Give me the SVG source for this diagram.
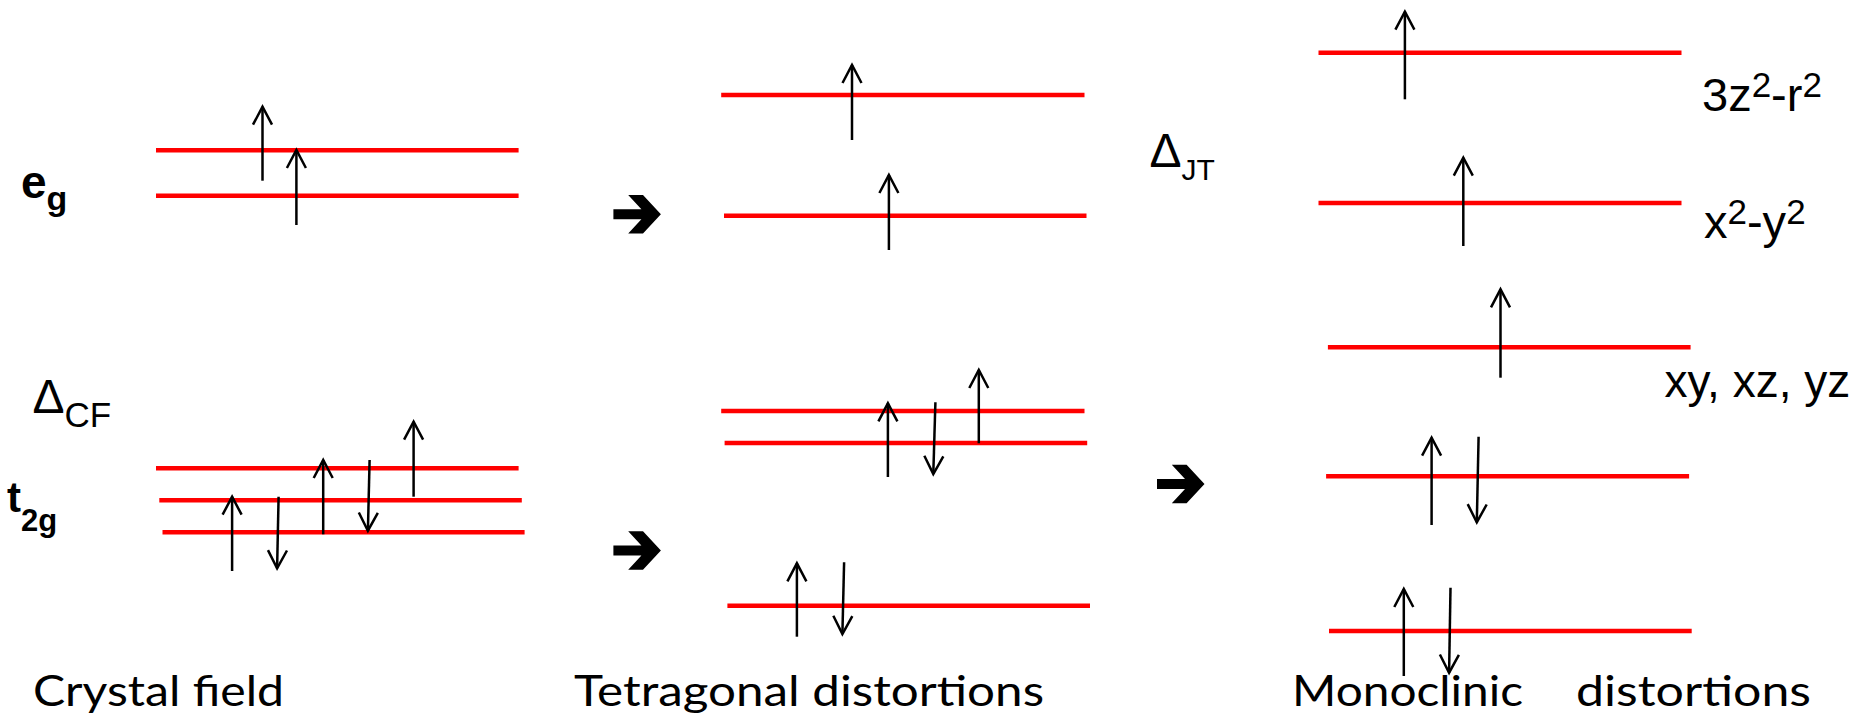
<svg xmlns="http://www.w3.org/2000/svg" width="1862" height="720" viewBox="0 0 1862 720">
  <style>
    .lvl { stroke: #FF0000; stroke-width: 4.5; fill: none; }
    .spin { stroke: #000; stroke-width: 2.5; fill: none; marker-end: url(#head); }
    .lab { font-family: "Liberation Sans", Arial, sans-serif; fill: #000; }
    .bold { font-weight: bold; }
    .cap { font-family: Lato, "Open Sans", sans-serif; font-size: 43px; fill: #000; }
  </style>
  <defs>
    <!-- open V head for the spin arrows -->
    <marker id="head" markerUnits="userSpaceOnUse" markerWidth="24" markerHeight="24" refX="0" refY="0" orient="auto" overflow="visible">
      <path d="M-18,-9.5 L0,0 L-18,9.5" fill="none" stroke="#000" stroke-width="2.5"/>
    </marker>
    <!-- heavy notched arrow between stages -->
    <polygon id="bigarrow" points="0,-5 28,-5 14.8,-19.2 29.6,-19.2 47.5,0 29.6,19.2 14.8,19.2 28,5 0,5" fill="#000"/>
  </defs>

  <rect width="1862" height="720" fill="#fff"/>

  <!-- Crystal field: e_g doublet -->
  <g id="cf-eg">
    <path class="lvl" d="M156,150.3 H518.6 M156,195.7 H518.6"/>
    <path class="spin" d="M262.5,180.7 V106.7"/>
    <path class="spin" d="M296.4,225 V150"/>
    <text class="lab bold" x="21" y="198.3" font-size="46">e<tspan font-size="34" dy="12">g</tspan></text>
  </g>

  <!-- Crystal field splitting label -->
  <g id="cf-delta">
    <text class="lab" x="32.5" y="412.7" font-size="48">Δ<tspan font-size="35" dy="14">CF</tspan></text>
  </g>

  <!-- Crystal field: t_2g triplet -->
  <g id="cf-t2g">
    <path class="lvl" d="M156,468.3 H518.6 M159.3,500.3 H521.8 M162.5,532.3 H524.6"/>
    <path class="spin" d="M232.1,571 V496.7"/>
    <path class="spin" d="M278.6,496.7 L277.1,568.3"/>
    <path class="spin" d="M323.2,534.3 V460"/>
    <path class="spin" d="M369.6,460 L367.9,530.7"/>
    <path class="spin" d="M413.6,496.7 V421.7"/>
    <text class="lab bold" x="7" y="512" font-size="42">t<tspan font-size="31" dy="19">2g</tspan></text>
  </g>

  <!-- Tetragonal stage -->
  <g id="tet-eg">
    <path class="lvl" d="M721.2,95 H1084.5 M724,215.7 H1086.5"/>
    <path class="spin" d="M852,140 V65"/>
    <path class="spin" d="M888.9,250 V175"/>
  </g>
  <g id="tet-t2g">
    <path class="lvl" d="M721.2,411 H1084.5 M724.6,443 H1087.2 M727.4,605.7 H1090"/>
    <path class="spin" d="M887.9,477 V403.3"/>
    <path class="spin" d="M935.4,402.3 L933.3,474"/>
    <path class="spin" d="M978.8,443.3 V370"/>
    <path class="spin" d="M796.9,636.7 V563.3"/>
    <path class="spin" d="M844.1,562.3 L842.4,634"/>
  </g>

  <!-- Jahn-Teller splitting label -->
  <g id="jt-delta">
    <text class="lab" x="1149.5" y="167.3" font-size="48">Δ<tspan font-size="30" dy="12.7">JT</tspan></text>
  </g>

  <!-- Monoclinic stage -->
  <g id="mono-3z2">
    <path class="lvl" d="M1318.5,52.7 H1681.5"/>
    <path class="spin" d="M1404.9,99.3 V11.7"/>
    <text class="lab" x="1702" y="111" font-size="47">3z<tspan font-size="35" dy="-14">2</tspan><tspan dy="14">-r</tspan><tspan font-size="35" dy="-14">2</tspan></text>
  </g>
  <g id="mono-x2y2">
    <path class="lvl" d="M1318.5,203 H1681.5"/>
    <path class="spin" d="M1463.3,246 V157.7"/>
    <text class="lab" x="1704" y="238" font-size="47">x<tspan font-size="35" dy="-14">2</tspan><tspan dy="14">-y</tspan><tspan font-size="35" dy="-14">2</tspan></text>
  </g>
  <g id="mono-t2g-1">
    <path class="lvl" d="M1327.9,347.3 H1690.6"/>
    <path class="spin" d="M1500.5,377.7 V289.3"/>
    <text class="lab" x="1664.5" y="396.7" font-size="46">xy, xz, yz</text>
  </g>
  <g id="mono-t2g-2">
    <path class="lvl" d="M1326.1,476.3 H1689.1"/>
    <path class="spin" d="M1431.6,525 V437.7"/>
    <path class="spin" d="M1478.6,436.7 L1476.8,522.3"/>
  </g>
  <g id="mono-t2g-3">
    <path class="lvl" d="M1329,631 H1691.7"/>
    <path class="spin" d="M1403.8,676 V589"/>
    <path class="spin" d="M1450.5,587.7 L1449.1,672.7"/>
  </g>

  <!-- Stage-to-stage arrows -->
  <g id="connectors">
    <use href="#bigarrow" transform="translate(613.4,214.2)"/>
    <use href="#bigarrow" transform="translate(613.4,550.5)"/>
    <use href="#bigarrow" transform="translate(1157,484)"/>
  </g>

  <!-- Stage captions -->
  <g id="captions">
    <text class="cap" x="33" y="706" textLength="251" lengthAdjust="spacingAndGlyphs">Crystal field</text>
    <text class="cap" x="574" y="706" textLength="470" lengthAdjust="spacingAndGlyphs">Tetragonal distortions</text>
    <text class="cap" x="1292" y="706" textLength="231" lengthAdjust="spacingAndGlyphs">Monoclinic</text>
    <text class="cap" x="1576" y="706" textLength="235" lengthAdjust="spacingAndGlyphs">distortions</text>
  </g>
</svg>
